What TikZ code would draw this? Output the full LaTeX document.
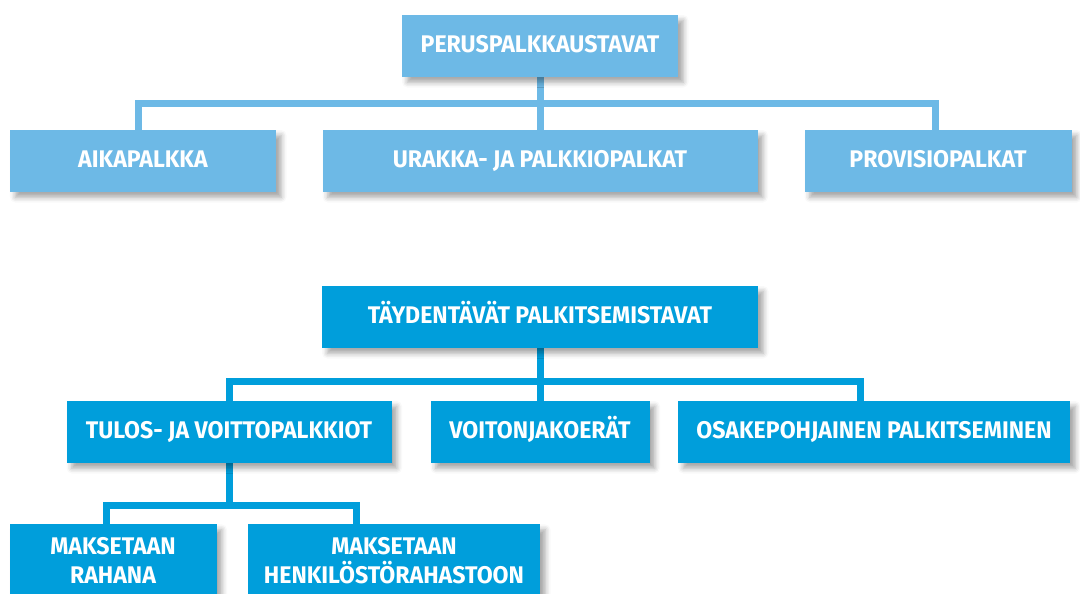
\documentclass[tikz,border=0pt]{standalone}
\usepackage{fontspec}
\setmainfont[FakeStretch=0.96]{Fira Sans}
\usetikzlibrary{positioning,shadows.blur,backgrounds}
\definecolor{vaalea}{HTML}{6DB9E6}
\definecolor{tumma}{HTML}{009EDB}
\def\px{0.02cm}

\begin{document}
\begin{tikzpicture}[x=0.02cm, y=-0.02cm,
		laatikko/.style={minimum height=62*\px, inner sep=0pt, text=white, align=center,
			font=\fontsize{13.7}{16.5}\selectfont\bfseries,
			blur shadow={shadow xshift=3pt, shadow yshift=-3pt, shadow blur radius=3pt, shadow opacity=35}},
		rivi/.style={text height=0.69em, text depth=0pt},
		perus/.style={laatikko, rivi, fill=vaalea},
		tayd/.style={laatikko, rivi, fill=tumma},
		tayd2/.style={laatikko, fill=tumma, minimum height=72*\px, anchor=north},
		vaaleaviiva/.style={draw=vaalea, line width=7*\px},
		tummaviiva/.style={draw=tumma, line width=7*\px}]
		%%%%% START %%%%%
		\useasboundingbox (0, 0) rectangle (1080, 593);
		
		% peruspalkkaustavat
		\node[perus, minimum width=276*\px] (peruspalkka) at (540, 46) {PERUSPALKKAUSTAVAT};
		\node[perus, minimum width=266*\px] (aikapalkka) at (143, 161) {AIKAPALKKA};
		\node[perus, minimum width=435*\px] (urakka) at (540, 161) {URAKKA- JA PALKKIOPALKAT};
		\node[perus, minimum width=267*\px] (provisio) at (938, 161) {PROVISIOPALKAT};
		
		% taydentavat palkitsemistavat
		\node[tayd, minimum width=436*\px] (taydentavat) at (540, 317) {TÄYDENTÄVÄT PALKITSEMISTAVAT};
		\node[tayd, minimum width=325*\px] (tulos) at (229, 432) {TULOS- JA VOITTOPALKKIOT};
		\node[tayd, minimum width=219*\px] (voitonjako) at (540, 432) {VOITONJAKOERÄT};
		\node[tayd, minimum width=392*\px] (osake) at (874, 432) {OSAKEPOHJAINEN PALKITSEMINEN};
		\node[tayd2, minimum width=207*\px] (rahana) at (113, 524) {MAKSETAAN\\RAHANA};
		\node[tayd2, minimum width=292*\px] (rahasto) at (394, 524) {MAKSETAAN\\HENKILÖSTÖRAHASTOON};
		
		\coordinate (ylahaara) at (540, 103);
		\coordinate (alahaara) at (540, 381);
		\coordinate (tuloshaara) at (229, 505);
		
		\begin{scope}[on background layer]
			\draw[vaaleaviiva] (peruspalkka) -- (urakka);
			\draw[vaaleaviiva] ([xshift=-5*\px]aikapalkka.north) |- (ylahaara) -| ([xshift=-3*\px]provisio.north);
			
			\draw[tummaviiva] (taydentavat) -- (voitonjako);
			\draw[tummaviiva] (tulos.north) |- (alahaara) -| ([xshift=-14*\px]osake.north);
			
			\draw[tummaviiva] (tulos) -- (tuloshaara);
			\draw[tummaviiva] ([xshift=-7*\px]rahana.north) |- (tuloshaara) -| ([xshift=-38*\px]rahasto.north);
		\end{scope}
		%%%%% END %%%%%
	\end{tikzpicture}
\end{document}
